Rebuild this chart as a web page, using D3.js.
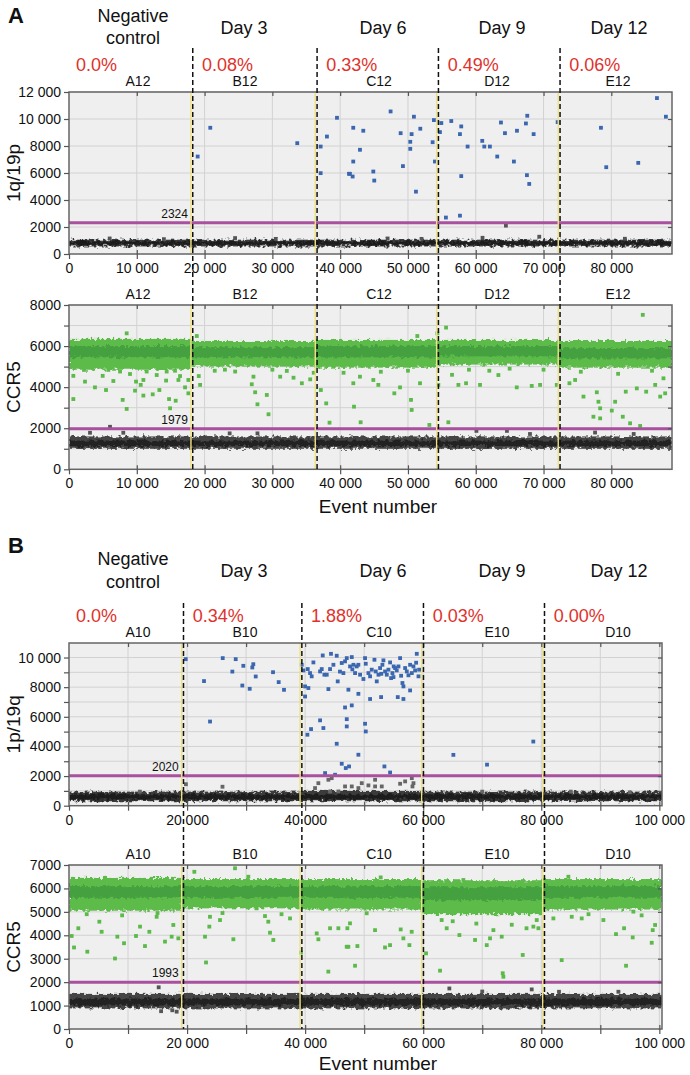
<!DOCTYPE html>
<html>
<head>
<meta charset="utf-8">
<script src="https://cdn.jsdelivr.net/npm/d3@7"></script>
<style>
body { margin: 0; background: #fff; }
svg { display: block; font-family: "Liberation Sans", Arial, Helvetica, sans-serif; }
</style>
</head>
<body>
<svg id="chart" width="690" height="1075"></svg>
<script>
// ---- shared ----
let headers = ["Negative control", "Day 3", "Day 6", "Day 9", "Day 12"]

// ---- panel A ----
let wellsA = ["A12", "B12", "C12", "D12", "E12"]
let wellEndsA = [17990, 36330, 54230, 72170, 88950]
let pctA = ["0.0%", "0.08%", "0.33%", "0.49%", "0.06%"]
let thrA1 = 2324
let thrA2 = 1979
let xTicksA = [0, 10000, 20000, 30000, 40000, 50000, 60000, 70000, 80000]
let yTicksA1 = [0, 2000, 4000, 6000, 8000, 10000, 12000]
let yTicksA2 = [0, 1000, 2000, 3000, 4000, 5000, 6000, 7000, 8000]

// 1q/19p positive droplets
let posA1 = [[18980,7220],[20840,9350],[33670,8210],[37120,7960],[38050,8700],[37120,5990],[39530,10090],[41300,5940],
  [41930,9350],[42920,7720],[41930,6850],[41440,5940],[41840,5740],[43410,9130],[44890,6110],[45030,5440],[47440,10560],
  [48920,8950],[49260,6510],[50540,8880],[50340,8310],[50340,7790],[50880,10170],[51820,9280],[51180,4620],[53640,8280],
  [53830,9920],[53980,6850],[54920,9700],[54720,9030],[56390,9850],[55600,2700],[57670,2840],[57860,9450],[57670,8880],
  [58800,7960],[57860,5770],[60960,8380],[61260,7960],[62090,7960],[63720,9740],[64310,8950],[63170,7220],[66080,9130],
  [65630,6850],[67400,9670],[67600,10240],[68540,8880],[67550,5840],[67890,5190],[72080,9770],[78470,9350],[79250,6430],
  [83970,6750],[86730,11550],[88050,10170]]
let greyA1 = [[64450,2100],[69370,1280],[6000,1150],[24500,1180],[30500,1120],[47000,1150],[61000,1200],[82000,1130],
  [14000,1100],[52000,1120]]
// negative cloud per well: low, core low, core high, high
let bandA1 = [[560,680,920,1060],[560,680,920,1060],[560,680,920,1060],[560,680,920,1060],[560,680,920,1060]]

// CCR5
let rainA2 = [[640,3420],[640,4550],[2210,4840],[2360,4270],[3830,3990],[4970,4550],[5460,3860],[5800,4840],[6540,4300],
  [7530,4760],[7920,3380],[8510,2940],[8510,6620],[9000,4640],[9740,3830],[9890,4270],[10580,4110],[10970,4350],[10970,3590],
  [11460,4760],[12350,3650],[12940,4590],[13330,3860],[14320,4320],[14410,4760],[14760,3420],[14910,2970],[15640,4800],
  [15740,3340],[16140,4350],[16380,4540],[17120,3990],[17610,4350],[17610,3700],
  [18850,6490],[19140,4540],[19340,4110],[21500,4800],[24510,4760],[27210,4510],[26960,4140],[27460,3750],[29180,3620],
  [27800,3165],[29430,2680],[31150,4510],[32130,4790],[33120,4460],[34350,4190],[35580,4380],[36100,4700],[23000,4850],
  [30000,4850],
  [37150,3860],[37940,3210],[38430,2270],[41940,4190],[42040,3050],[43020,2290],[42920,4510],[44890,4350],[45630,4110],
  [47990,3700],[48830,3990],[50450,3380],[50550,2890],[51380,6490],[51780,4190],[53160,2160],[54340,6620],[54480,4110],
  [55620,6900],[55960,2290],[57440,4110],[58570,4190],[60630,4110],[63340,4590],[66050,3990],[68260,4060],[69490,4110],
  [71950,4110],[73820,4190],[74660,4350],[75890,3540],[77860,3750],[78100,3290],[78350,2970],[77360,2560],[78350,2480],
  [80070,2860],[80560,3290],[81690,2560],[82130,3780],[82770,2240],[83760,3940],[84250,2110],[84640,7520],[85140,3780],
  [86470,4110],[87210,3540],[87940,3700],[87690,4430],
  [40500,4700],[46000,4750],[50000,4800],[56500,4600],[59000,4850],[62000,4800],[65000,4900],[70000,4850],[75500,4750],
  [81000,4650],[86000,4800]]
let greyA2 = [[3100,1780],[6050,2070],[8010,1780],[23700,1750],[27800,1750],[60100,1870],[64600,1870],[68000,1720],
  [77600,1790],[83300,1720]]
let greenA2 = [[4850,5450,6000,6350],[5000,5450,5950,6250],[4950,5450,6000,6300],[5100,5500,6000,6300],[4950,5400,5900,6250]]
let blackA2 = [[1000,1130,1400,1600],[1000,1130,1400,1600],[1000,1130,1400,1600],[1000,1130,1400,1600],[1000,1130,1400,1600]]

// ---- panel B ----
let wellsB = ["A10", "B10", "C10", "E10", "D10"]
let wellEndsB = [19090, 39140, 59740, 80240, 100450]
let pctB = ["0.0%", "0.34%", "1.88%", "0.03%", "0.00%"]
let thrB1 = 2020
let thrB2 = 1993
let xTicksB = [0, 10000, 20000, 30000, 40000, 50000, 60000, 70000, 80000, 90000, 100000]
let yTicksB1 = [0, 1000, 2000, 3000, 4000, 5000, 6000, 7000, 8000, 9000, 10000]
let yTicksB2 = [0, 1000, 2000, 3000, 4000, 5000, 6000, 7000]

// 1p/19q positive droplets
let posB1 = [[19770,9890],[22870,8410],[23890,5680],[26040,9960],[27670,9050],[28240,9890],[29360,8110],[29530,9440],
  [30610,7890],[31050,9330],[31220,9550],[31630,8720],[34560,9010],[35520,8340],[36420,7820],
  [39420,9510],[39700,9130],[40440,9220],[40830,8950],[41400,9670],[41110,8730],[42530,9060],[42810,9220],[43260,8840],
  [43660,8840],[44220,9220],[44790,9510],[45350,10120],[45520,8390],[46200,9630],[46480,8950],[46760,9740],[47050,9960],
  [47610,9400],[47900,10030],[48180,9510],[48460,8950],[48740,9400],[49020,9510],[49310,8840],[49870,8550],[50150,9960],
  [50270,9580],[50720,8950],[51000,8730],[51280,9180],[51740,9850],[51960,9060],[52130,8390],[52420,8840],[52700,9290],
  [53090,9510],[53260,9810],[53540,9060],[53830,8840],[54110,9180],[54390,9670],[54560,8610],[54790,8950],[54960,8680],
  [55240,9290],[55520,9130],[55810,9400],[56090,9960],[56260,8770],[56480,8280],[56650,8050],[56940,9290],[57220,9060],
  [57780,9510],[58070,8950],[58350,9400],[58630,9130],[58910,10250],[59200,8730],[59310,9180],[39990,8050],[40550,7940],
  [43940,7870],[47330,7830],[49020,7550],[51000,7200],[52870,7330],[55690,7330],[56650,7200],[57780,7780],[39990,7370],
  [42980,10140],[44380,10250],[45900,9050],[48000,9200],[52900,8900],[55000,9400],[57500,8800],[58800,9650],
  [46760,6630],[47900,6770],[42530,5760],[47050,5840],[47050,5350],[50150,5530],[50270,5010],[43090,5240],[41000,5170],
  [40380,4790],[45350,4180],[49020,3440],[46200,2830],[47440,2650],[46880,2540],[53430,2650],[54390,2240],[43380,2200],
  [45070,2090],
  [65110,3430],[70810,2770],[78650,4330]]
let greyB1 = [[19800,1450],[26000,1280],[42240,1520],[43940,1750],[44500,1860],[46760,1300],[47900,1300],[49020,1190],
  [50720,1370],[51850,1750],[52980,1300],[56090,1480],[56940,1640],[58070,1860],[58180,1300],[58350,1520],[44220,960],
  [45630,960],[41680,1190],[49590,1520],[51850,1300],[12000,950],[70000,950],[85000,950],[95000,900]]
let bandB1 = [[300,430,760,950],[300,430,760,950],[300,430,760,1000],[300,430,760,950],[300,430,760,950]]

// CCR5
let rainB2 = [[450,3970],[850,3480],[1580,4300],[3100,3300],[5140,4580],[5530,4150],[7790,3010],[8190,3940],[9320,3660],
  [11350,3970],[12030,4370],[12870,3540],[13610,4150],[14850,4790],[16260,3730],[17390,3940],[17670,4440],[18520,3870],
  [21230,6710],[23040,3940],[23210,2840],[23880,4790],[23770,4370],[25580,4650],[28120,6860],[27840,3830],[30380,6500],
  [31790,5150],[33200,4820],[33760,4580],[34050,4110],[34610,3800],[37440,4720],[39300,3260],[41960,4080],[42240,3830],
  [43930,2450],[44220,4300],[45630,4300],[47040,3510],
  [47150,4300],[47600,4510],[48450,2700],[48850,3540],[47320,3510],[50430,4940],[51840,4220],[52800,6470],[53530,3480],
  [54380,3580],[56190,4250],[56640,3870],[57660,3580],[58050,4150],[60480,3230],[62850,2490],[63130,4650],[63980,4300],
  [66130,4010],[66800,6360],[68780,3800],[70760,3580],[71320,3870],[71890,4220],[73470,2380],[73580,2230],[73300,3940],
  [76860,3160],[78660,4370],[79230,4650],[79510,4300],[82050,4720],[83460,2940],[84590,6500],[85160,4790],[86850,4720],
  [90520,4650],[92660,4050],[94020,4300],[94360,2700],[95490,3910],[95600,5010],[98710,3680],[98880,4220],[99280,4440],
  [3000,4900],[9000,4850],[15000,4950],[26000,4950],[36000,4900],[65000,4600],[69000,4500],[75000,4450],[77500,4300],
  [88000,4900],[97000,4850]]
let greyB2 = [[15190,1780],[64430,1730],[78380,1690],[93060,1590],[15600,760],[18240,740],[17500,800],[83000,1590],[70000,1600]]
let greenB2 = [[5050,5600,6100,6450],[5150,5600,6100,6400],[5100,5600,6100,6400],[4900,5500,6050,6350],[5100,5600,6100,6400]]
let blackB2 = [[880,1000,1300,1500],[880,1000,1300,1500],[880,1000,1300,1500],[880,1000,1300,1500],[880,1000,1300,1500]]

// ---- layout (pixels) ----
let headerX = [133, 244, 383, 502, 619]
let wellLabelX = [138, 245, 379, 497, 618]

let svg = d3.select('#chart')
let defs = svg.append('defs')

// ragged edge for the dense droplet clouds
let rough = defs.append('filter').attr('id', 'rough')
  .attr('x', '-2%').attr('y', '-60%').attr('width', '104%').attr('height', '220%')
rough.append('feTurbulence').attr('type', 'fractalNoise').attr('baseFrequency', 0.28)
  .attr('numOctaves', 2).attr('seed', 4).attr('result', 'noise')
rough.append('feDisplacementMap').attr('in', 'SourceGraphic').attr('in2', 'noise')
  .attr('scale', 7).attr('xChannelSelector', 'R').attr('yChannelSelector', 'G')

let fmt = v => v >= 10000 ? d3.format(',')(v).replace(/,/g, ' ') : String(v)

let drawPlot = (o) => {
  let x = d3.scaleLinear().domain([0, o.xMax]).range([o.left, o.right])
  let y = d3.scaleLinear().domain([0, o.yMax]).range([o.bottom, o.top])
  let g = svg.append('g')

  g.append('rect').attr('x', o.left).attr('y', o.top)
    .attr('width', o.right - o.left).attr('height', o.bottom - o.top).attr('fill', '#efefef')

  g.selectAll('.vg').data(o.xTicks.filter(t => t > 0)).enter().append('line')
    .attr('x1', d => x(d)).attr('x2', d => x(d)).attr('y1', o.top).attr('y2', o.bottom)
    .attr('stroke', '#d2d2d2').attr('stroke-width', 1)
  g.selectAll('.hg').data(o.yTicks.filter(t => t > 0)).enter().append('line')
    .attr('y1', d => y(d)).attr('y2', d => y(d)).attr('x1', o.left).attr('x2', o.right)
    .attr('stroke', '#d2d2d2').attr('stroke-width', 1)

  let clipId = 'clip' + o.id
  defs.append('clipPath').attr('id', clipId).append('rect')
    .attr('x', o.left).attr('y', o.top).attr('width', o.right - o.left).attr('height', o.bottom - o.top)
  let inner = g.append('g').attr('clip-path', `url(#${clipId})`)

  let starts = [0].concat(o.wellEnds.slice(0, -1))
  o.bands.forEach(b => {
    let bg = inner.append('g').attr('filter', 'url(#rough)')
    bg.selectAll('rect.outer').data(b.rows).enter().append('rect')
      .attr('x', (d, i) => x(starts[i])).attr('width', (d, i) => x(o.wellEnds[i]) - x(starts[i]))
      .attr('y', d => y(d[3])).attr('height', d => y(d[0]) - y(d[3]))
      .attr('fill', b.outer)
    bg.selectAll('rect.core').data(b.rows).enter().append('rect')
      .attr('x', (d, i) => x(starts[i])).attr('width', (d, i) => x(o.wellEnds[i]) - x(starts[i]))
      .attr('y', d => y(d[2])).attr('height', d => y(d[1]) - y(d[2]))
      .attr('fill', b.core).attr('opacity', 0.8)
  })

  o.points.forEach(p => {
    inner.selectAll(null).data(p.data).enter().append('rect')
      .attr('x', d => x(d[0]) - 1.9).attr('y', d => y(d[1]) - 1.9)
      .attr('width', 3.8).attr('height', 3.8).attr('fill', p.color)
  })

  // threshold
  inner.append('line').attr('x1', o.left).attr('x2', o.right)
    .attr('y1', y(o.thr)).attr('y2', y(o.thr))
    .attr('stroke', '#a9509f').attr('stroke-width', 3)

  // well boundaries
  g.selectAll('.yl').data(o.wellEnds.slice(0, -1)).enter().append('line')
    .attr('x1', d => x(d)).attr('x2', d => x(d)).attr('y1', o.top).attr('y2', o.bottom)
    .attr('stroke', '#eee17e').attr('stroke-width', 1.4)

  if (o.thrLabel) {
    g.append('text').attr('x', x(o.wellEnds[0]) - 3).attr('y', y(o.thr) - 5)
      .attr('text-anchor', 'end').attr('font-size', 12).attr('fill', '#111').text(o.thr)
  }

  g.append('rect').attr('x', o.left).attr('y', o.top)
    .attr('width', o.right - o.left).attr('height', o.bottom - o.top)
    .attr('fill', 'none').attr('stroke', '#666').attr('stroke-width', 1.5)

  // axes
  let style = a => {
    a.select('.domain').remove()
    a.selectAll('line').attr('stroke', '#555').attr('stroke-width', 1.2)
    a.selectAll('text').attr('font-size', 14).attr('fill', '#111')
      .attr('font-family', '"Liberation Sans", Arial, sans-serif')
  }
  g.append('g').attr('transform', `translate(${o.left},0)`)
    .call(d3.axisLeft(y).tickValues(o.yTicks).tickSize(5).tickPadding(3)
      .tickFormat(v => o.yLab(v) ? fmt(v) : ''))
    .call(style)
  g.append('g').attr('transform', `translate(${o.right},0)`)
    .call(d3.axisLeft(y).tickValues(o.yTicks.filter(t => t > 0 && t < o.yMax)).tickSize(4).tickFormat(''))
    .call(style)
  g.append('g').attr('transform', `translate(0,${o.bottom})`)
    .call(d3.axisBottom(x).tickValues(o.xTicks).tickSize(5).tickPadding(4)
      .tickFormat(v => o.xLab(v) ? fmt(v) : ''))
    .call(style)
  g.append('g').attr('transform', `translate(0,${o.bottom})`)
    .call(d3.axisTop(x).tickValues(o.xTicks.filter(t => t > 0)).tickSize(4).tickFormat(''))
    .call(style)
  g.append('g').attr('transform', `translate(0,${o.top})`)
    .call(d3.axisBottom(x).tickValues(o.xTicks.filter(t => t > 0)).tickSize(4).tickFormat(''))
    .call(style)

  // well names
  g.selectAll('.wl').data(o.wells).enter().append('text')
    .attr('x', (d, i) => wellLabelX[i]).attr('y', o.top - 6)
    .attr('text-anchor', 'middle').attr('font-size', 14).attr('fill', '#111').text(d => d)

  // y title
  g.append('text')
    .attr('transform', `translate(20,${(o.top + o.bottom) / 2}) rotate(-90)`)
    .attr('text-anchor', 'middle').attr('font-size', 19).attr('fill', '#111').text(o.yTitle)

  return x
}

let drawPanel = (p) => {
  let x1 = drawPlot(p.top)
  drawPlot(p.bot)

  // header
  svg.append('text').attr('x', 8).attr('y', p.letterY).attr('font-size', 22)
    .attr('font-weight', 'bold').attr('fill', '#111').text(p.letter)
  let hd = svg.append('g').attr('font-size', 18).attr('fill', '#111').attr('text-anchor', 'middle')
  hd.append('text').attr('x', headerX[0]).attr('y', p.negY[0]).text('Negative')
  hd.append('text').attr('x', headerX[0]).attr('y', p.negY[1]).text('control')
  hd.selectAll(null).data(headers.slice(1)).enter().append('text')
    .attr('x', (d, i) => headerX[i + 1]).attr('y', p.dayY).text(d => d)

  let starts = [0].concat(p.top.wellEnds.slice(0, -1))
  svg.append('g').selectAll('text').data(p.pct).enter().append('text')
    .attr('x', (d, i) => x1(starts[i]) + (i == 0 ? 7 : 11)).attr('y', p.pctY)
    .attr('font-size', 18).attr('fill', '#e0322c').text(d => d)

  // well dividers across both plots
  svg.append('g').selectAll('line').data(p.top.wellEnds.slice(0, -1)).enter().append('line')
    .attr('x1', d => x1(d) + 1.8).attr('x2', d => x1(d) + 1.8)
    .attr('y1', p.dashTop).attr('y2', p.bot.bottom)
    .attr('stroke', '#111').attr('stroke-width', 1.5).attr('stroke-dasharray', '5,3')

  svg.append('text').attr('x', 378).attr('y', p.titleY)
    .attr('text-anchor', 'middle').attr('font-size', 19).attr('fill', '#111').text('Event number')
}

let every2000 = v => v % 2000 == 0
let all = v => true

drawPanel({
  letter: 'A', letterY: 23, negY: [22, 44], dayY: 34, pctY: 71, dashTop: 48, pct: pctA, titleY: 513,
  top: {
    id: 'a1', left: 69, right: 672, top: 92, bottom: 254, xMax: 88950, yMax: 12000,
    xTicks: xTicksA, yTicks: yTicksA1, xLab: all, yLab: all, wells: wellsA, wellEnds: wellEndsA,
    thr: thrA1, thrLabel: true, yTitle: '1q/19p',
    bands: [{ rows: bandA1, outer: '#3a3a3a', core: '#141414' }],
    points: [{ data: greyA1, color: '#555' }, { data: posA1, color: '#3b67b0' }]
  },
  bot: {
    id: 'a2', left: 69, right: 672, top: 305, bottom: 469.3, xMax: 88950, yMax: 8000,
    xTicks: xTicksA, yTicks: yTicksA2, xLab: all, yLab: every2000, wells: wellsA, wellEnds: wellEndsA,
    thr: thrA2, thrLabel: true, yTitle: 'CCR5',
    bands: [{ rows: greenA2, outer: '#5cbb48', core: '#3f9b3f' }, { rows: blackA2, outer: '#444', core: '#1a1a1a' }],
    points: [{ data: greyA2, color: '#555' }, { data: rainA2, color: '#5cba4a' }]
  }
})

drawPanel({
  letter: 'B', letterY: 553, negY: [565, 588], dayY: 577, pctY: 622, dashTop: 603, pct: pctB, titleY: 1070,
  top: {
    id: 'b1', left: 69, right: 662, top: 643, bottom: 805.7, xMax: 100450, yMax: 10980,
    xTicks: xTicksB, yTicks: yTicksB1, xLab: v => v % 20000 == 0, yLab: every2000, wells: wellsB, wellEnds: wellEndsB,
    thr: thrB1, thrLabel: true, yTitle: '1p/19q',
    bands: [{ rows: bandB1, outer: '#3a3a3a', core: '#141414' }],
    points: [{ data: greyB1, color: '#666' }, { data: posB1, color: '#3b67b0' }]
  },
  bot: {
    id: 'b2', left: 69, right: 662, top: 865, bottom: 1029, xMax: 100450, yMax: 7000,
    xTicks: xTicksB, yTicks: yTicksB2, xLab: v => v % 20000 == 0, yLab: all, wells: wellsB, wellEnds: wellEndsB,
    thr: thrB2, thrLabel: true, yTitle: 'CCR5',
    bands: [{ rows: greenB2, outer: '#5cbb48', core: '#3f9b3f' }, { rows: blackB2, outer: '#444', core: '#1a1a1a' }],
    points: [{ data: greyB2, color: '#555' }, { data: rainB2, color: '#5cba4a' }]
  }
})
</script>
</body>
</html>
